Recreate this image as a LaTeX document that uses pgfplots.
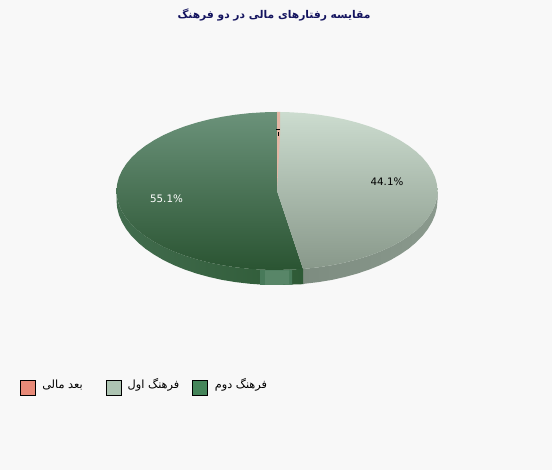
\documentclass[border=0pt]{standalone}
\usepackage{fontspec}
\setmainfont{DejaVu Sans}
\newfontfamily\arabicfont[Script=Arabic]{DejaVu Sans}
\TeXXeTstate=1
\usepackage{pgfplots}
\pgfplotsset{compat=1.18}
\definecolor{bgc}{HTML}{F8F8F8}
\definecolor{titlec}{HTML}{14145F}
\begin{document}
\begin{tikzpicture}
\begin{axis}[
  scale only axis, width=552pt, height=470pt,
  xmin=0, xmax=552, ymin=0, ymax=470, y dir=reverse,
  ticks=none, axis line style={draw=none},
  axis background/.style={fill=bgc},
  clip=false]

% side wall, right part
\addplot[draw=none, left color={rgb,255:red,125;green,140;blue,128}, right color={rgb,255:red,138;green,153;blue,141}] coordinates {
  (437.5,191) (436.9,197.9) (435.1,204.7) (432,211.4) (427.8,218) (422.5,224.4) (416,230.5) (408.5,236.3) (399.9,241.8) (390.5,246.9) (380.2,251.5) (369.1,255.7) (357.25,259.4) (344.8,262.6) (331.9,265.2) (318.5,267.3) (304.9,268.8) (303,269)
  (303,284.2) (304.9,283.7) (318.5,282.1) (331.9,279.9) (344.8,277) (357.25,273.6) (369.1,269.6) (380.2,265.1) (390.5,260.1) (399.9,254.6) (408.5,248.8) (416,242.5) (422.5,235.9) (427.8,229.1) (432,222) (435.1,214.8) (436.9,207.4) (437.5,200)
} -- cycle;

% side wall, left part
\addplot[draw=none, left color={rgb,255:red,66;green,108;blue,78}, right color={rgb,255:red,46;green,90;blue,54}] coordinates {
  (116.5,191) (117.1,197.9) (118.9,204.7) (122,211.4) (126.2,218) (131.5,224.4) (138,230.5) (145.5,236.3) (154.1,241.8) (163.5,246.9) (173.8,251.5) (184.9,255.7) (196.75,259.4) (209.2,262.6) (222.1,265.2) (235.5,267.3) (249.1,268.8) (263,269.7) (277,270) (303,269)
  (303,284.2) (277,285) (263,284.7) (249.1,283.7) (235.5,282.1) (222.1,279.9) (209.2,277) (196.75,273.6) (184.9,269.6) (173.8,265.1) (163.5,260.1) (154.1,254.6) (145.5,248.8) (138,242.5) (131.5,235.9) (126.2,229.1) (122,222) (118.9,214.8) (117.1,207.4) (116.5,200)
} -- cycle;

% lighter patch in the wall
\addplot[draw=none, fill={rgb,255:red,72;green,122;blue,90}] coordinates {(260,270) (292,270) (292,284.6) (260,284.9)} -- cycle;
\addplot[draw=none, fill={rgb,255:red,88;green,134;blue,104}] coordinates {(265,270.5) (289,270.5) (289,284.7) (265,284.9)} -- cycle;

% top face, second culture
\addplot[draw=none, top color={rgb,255:red,107;green,146;blue,122}, bottom color={rgb,255:red,42;green,84;blue,50}] coordinates {
  (277,112) (263,112.3) (249.1,113.2) (235.5,114.7) (222.1,116.8) (209.2,119.4) (196.75,122.6) (184.9,126.3) (173.8,130.5) (163.5,135.1) (154.1,140.2) (145.5,145.7) (138,151.5) (131.5,157.6) (126.2,164) (122,170.6) (118.9,177.3) (117.1,184.1) (116.5,191)
  (117.1,197.9) (118.9,204.7) (122,211.4) (126.2,218) (131.5,224.4) (138,230.5) (145.5,236.3) (154.1,241.8) (163.5,246.9) (173.8,251.5) (184.9,255.7) (196.75,259.4) (209.2,262.6) (222.1,265.2) (235.5,267.3) (249.1,268.8) (263,269.7) (277,270) (303,269) (277,191)
} -- cycle;

% top face, first culture
\addplot[draw=none, top color={rgb,255:red,204;green,220;blue,207}, bottom color={rgb,255:red,136;green,152;blue,138}] coordinates {
  (280,112) (291,112.3) (304.9,113.2) (318.5,114.7) (331.9,116.8) (344.8,119.4) (357.25,122.6) (369.1,126.3) (380.2,130.5) (390.5,135.1) (399.9,140.2) (408.5,145.7) (416,151.5) (422.5,157.6) (427.8,164) (432,170.6) (435.1,177.3) (436.9,184.1) (437.5,191)
  (436.9,197.9) (435.1,204.7) (432,211.4) (427.8,218) (422.5,224.4) (416,230.5) (408.5,236.3) (399.9,241.8) (390.5,246.9) (380.2,251.5) (369.1,255.7) (357.25,259.4) (344.8,262.6) (331.9,265.2) (318.5,267.3) (304.9,268.8) (303,269) (277,191)
} -- cycle;

% top face, financial dimension
\addplot[draw=none, fill={rgb,255:red,228;green,182;blue,164}] coordinates {(277,112) (280,112) (280,135) (277,191)} -- cycle;

% clipped label of the small slice
\addplot[black, line width=0.8pt] coordinates {(276,129) (280,129)};
\addplot[black, line width=0.8pt] coordinates {(278,132.5) (278,136)};

% legend boxes
\addplot[black, fill={rgb,255:red,232;green,138;blue,120}] coordinates {(20.5,380.5) (35.5,380.5) (35.5,395.5) (20.5,395.5)} -- cycle;
\addplot[black, fill={rgb,255:red,173;green,196;blue,178}] coordinates {(106.5,380.5) (121.5,380.5) (121.5,395.5) (106.5,395.5)} -- cycle;
\addplot[black, fill={rgb,255:red,69;green,133;blue,90}] coordinates {(192.5,380.5) (207.5,380.5) (207.5,395.5) (192.5,395.5)} -- cycle;

\node[text=titlec, font=\arabicfont\fontsize{10.7}{12}\selectfont\bfseries] at (axis cs:274,15) {\beginR مقایسه رفتارهای مالی در دو فرهنگ\endR};
\node[font=\fontsize{10.3}{12}\selectfont] at (axis cs:387,182) {44.1\%};
\node[text=white, font=\fontsize{10.3}{12}\selectfont] at (axis cs:166.5,199) {55.1\%};
\node[font=\arabicfont\fontsize{11.3}{13}\selectfont] at (axis cs:62.5,385.5) {\beginR بعد مالی\endR};
\node[font=\arabicfont\fontsize{11.3}{13}\selectfont] at (axis cs:153.5,384.5) {\beginR فرهنگ اول\endR};
\node[font=\arabicfont\fontsize{11.3}{13}\selectfont] at (axis cs:241,384.5) {\beginR فرهنگ دوم\endR};
\end{axis}
\end{tikzpicture}
\end{document}
